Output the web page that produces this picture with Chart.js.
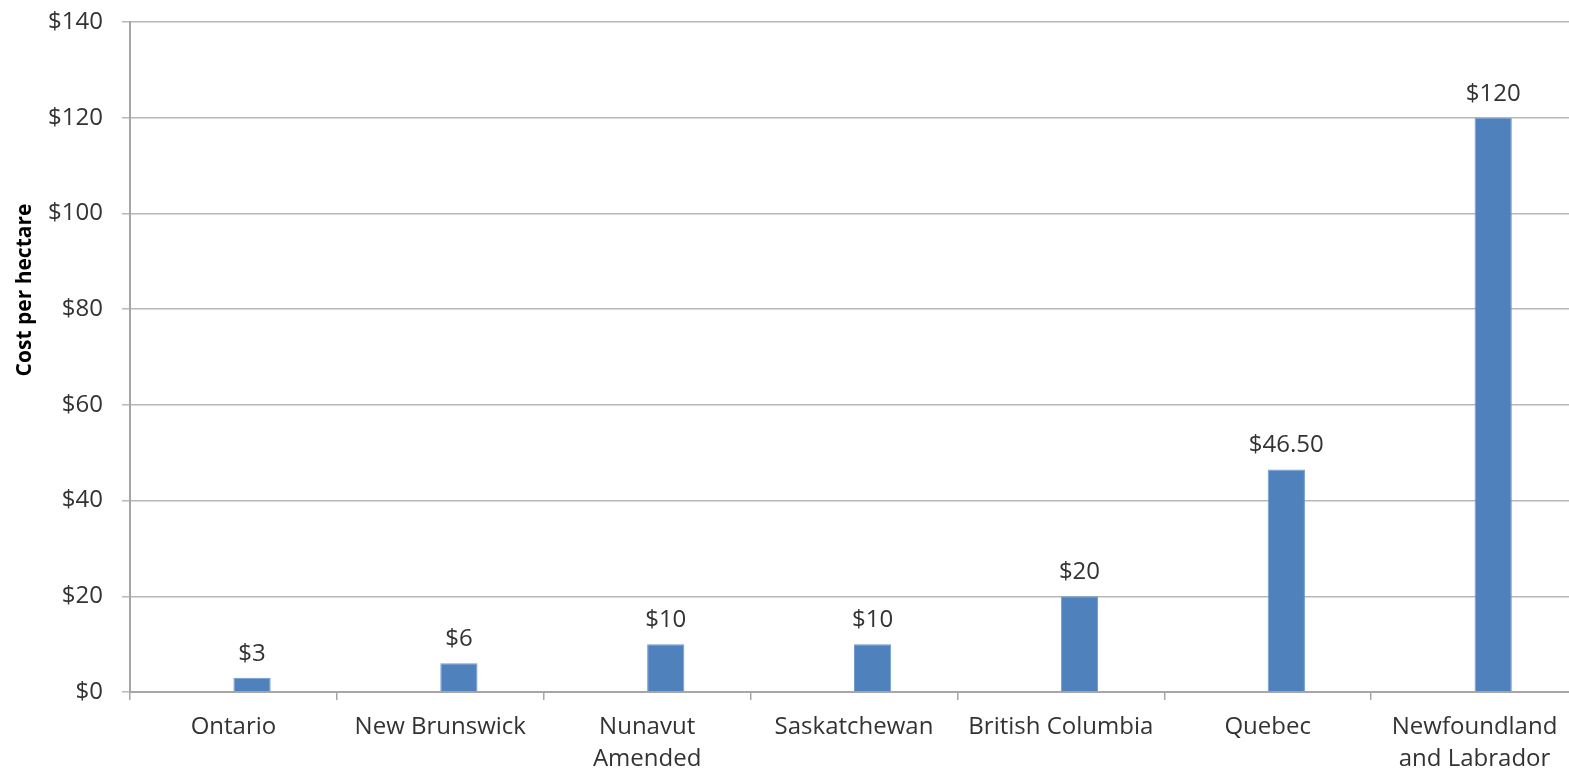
<!DOCTYPE html>
<html lang="en">
<head>
  <meta charset="UTF-8" />
  <title>Cost per hectare by province</title>
  <script src="https://cdn.jsdelivr.net/npm/chart.js"></script>
  <style>
    html, body {
      margin: 0;
      padding: 0;
      background: #fff;
      overflow: hidden;
    }
    .wrap {
      width: 1580px;
      height: 768px;
    }
  </style>
</head>
<body>
  <div class="wrap">
    <canvas id="costChart" width="1580" height="768"></canvas>
  </div>

  <script>
    const provinces = [
      'Ontario',
      'New Brunswick',
      ['Nunavut', 'Amended'],
      'Saskatchewan',
      'British Columbia',
      'Quebec',
      ['Newfoundland', 'and Labrador']
    ];
    const costs = [3, 6, 10, 10, 20, 46.5, 120];
    // empty first series, keeps the bars sitting right of the category centre
    const blankSeries = [null, null, null, null, null, null, null];
    const yTicks = [0, 20, 40, 60, 80, 100, 120, 140];

    const textColor = '#333333';
    const fontFamily = '"Open Sans", Lato, sans-serif';

    function money(v) {
      return '$' + (Number.isInteger(v) ? v : v.toFixed(2));
    }

    // value labels above each bar of the cost series
    const valueLabels = {
      id: 'valueLabels',
      afterDatasetsDraw(chart) {
        const ctx = chart.ctx;
        const meta = chart.getDatasetMeta(1);
        ctx.save();
        ctx.fillStyle = textColor;
        ctx.font = '24px ' + fontFamily;
        ctx.textAlign = 'center';
        ctx.textBaseline = 'alphabetic';
        meta.data.forEach((bar, i) => {
          ctx.fillText(money(costs[i]), bar.x, bar.y - 17);
        });
        ctx.restore();
      }
    };

    // rotated axis title, placed a bit above the middle
    const yTitle = {
      id: 'yTitle',
      afterDraw(chart) {
        const ctx = chart.ctx;
        ctx.save();
        ctx.translate(25, 290);
        ctx.rotate(-Math.PI / 2);
        ctx.fillStyle = '#000';
        ctx.font = 'bold 21px ' + fontFamily;
        ctx.textAlign = 'center';
        ctx.textBaseline = 'middle';
        ctx.fillText('Cost per hectare', 0, 0);
        ctx.restore();
      }
    };

    const ctx = document.getElementById('costChart').getContext('2d');
    new Chart(ctx, {
      type: 'bar',
      data: {
        labels: provinces,
        datasets: [
          {
            label: '',
            data: blankSeries,
            backgroundColor: '#C0504D'
          },
          {
            label: 'Cost per hectare',
            data: costs,
            backgroundColor: '#4F81BD',
            borderColor: '#6F9AD0',
            borderWidth: 1
          }
        ]
      },
      options: {
        responsive: false,
        animation: false,
        layout: {
          padding: { top: 22, right: 2, left: 0, bottom: 0 }
        },
        datasets: {
          bar: {
            categoryPercentage: 0.36,
            barPercentage: 1
          }
        },
        plugins: {
          legend: { display: false },
          tooltip: { enabled: false }
        },
        scales: {
          x: {
            offset: true,
            afterFit: (s) => { s.height = 76; },
            grid: {
              offset: true,
              drawOnChartArea: false,
              tickLength: 8,
              color: '#A6A6A6',
              lineWidth: 1.5
            },
            border: { color: '#A6A6A6', width: 2 },
            ticks: {
              color: textColor,
              padding: 12,
              maxRotation: 0,
              autoSkip: false,
              font: { family: fontFamily, size: 24, lineHeight: 1.3 }
            }
          },
          y: {
            min: 0,
            max: 140,
            afterFit: (s) => {
              s.width = 130;
              s.paddingTop = 0;
              s.paddingBottom = 0;
            },
            afterBuildTicks: (s) => { s.ticks = yTicks.map(v => ({ value: v })); },
            grid: {
              color: '#B8B8B8',
              lineWidth: 1.5,
              tickLength: 8
            },
            border: { color: '#A6A6A6', width: 2 },
            ticks: {
              color: textColor,
              padding: 19,
              font: { family: fontFamily, size: 24 },
              callback: (v) => '$' + v
            }
          }
        }
      },
      plugins: [valueLabels, yTitle]
    });
  </script>
</body>
</html>
